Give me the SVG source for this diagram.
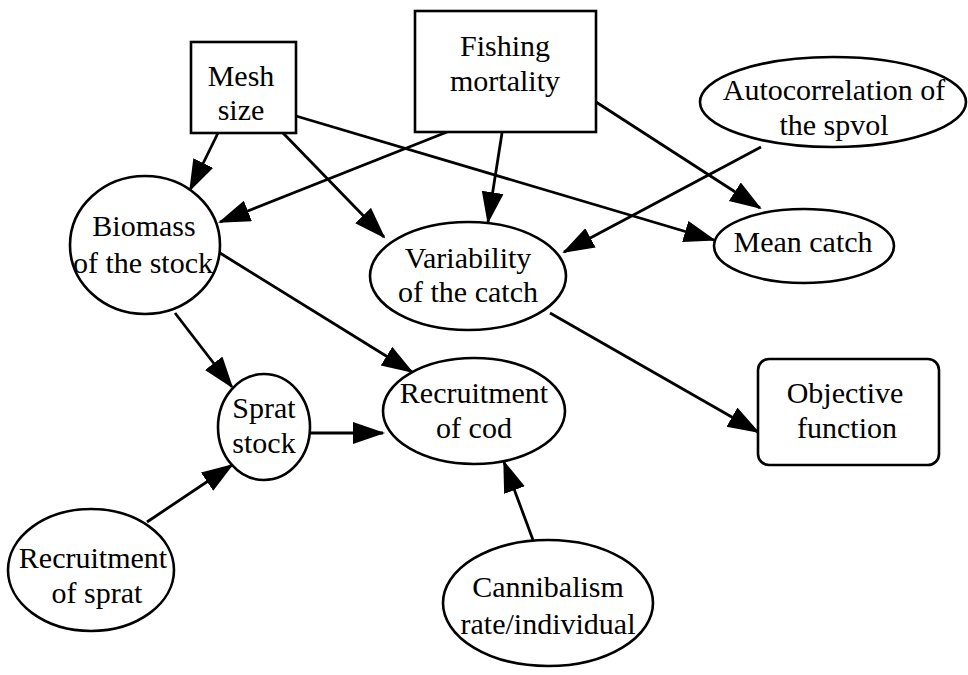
<svg xmlns="http://www.w3.org/2000/svg" width="968" height="675" viewBox="0 0 968 675">
<style>
.n{fill:#fff;stroke:#000;stroke-width:2.6}
.t{font-family:'Liberation Serif','DejaVu Serif',serif;font-size:30px;fill:#000;text-anchor:middle}
.e line{stroke:#000;stroke-width:2.8;marker-end:url(#a)}
</style>
<defs>
<marker id="a" markerUnits="userSpaceOnUse" markerWidth="34" markerHeight="24" refX="30" refY="11" orient="auto">
<path d="M0,0 L32,11 L0,22 z" fill="#000"/>
</marker>
</defs>
<rect width="968" height="675" fill="#fff"/>
<g id="connectors" class="e">
<line x1="218" y1="133" x2="190" y2="190"/>
<line x1="283" y1="133" x2="384" y2="237"/>
<line x1="296" y1="116" x2="714" y2="240"/>
<line x1="447" y1="132" x2="220" y2="222"/>
<line x1="502" y1="133" x2="488" y2="222"/>
<line x1="596" y1="102" x2="760" y2="208"/>
<line x1="761" y1="147" x2="564" y2="252"/>
<line x1="175" y1="313" x2="232" y2="387"/>
<line x1="220" y1="253" x2="412" y2="372"/>
<line x1="309" y1="433" x2="383" y2="433"/>
<line x1="147" y1="522" x2="232" y2="465"/>
<line x1="533" y1="540" x2="504" y2="462"/>
<line x1="550" y1="313" x2="758" y2="432"/>
</g>
<g id="mesh"><rect class="n" x="191" y="42" width="105" height="91"/><text class="t" x="241" y="86">Mesh</text><text class="t" x="241" y="120">size</text></g>
<g id="fishing"><rect class="n" x="415" y="11" width="181" height="121"/><text class="t" x="505" y="56">Fishing</text><text class="t" x="505" y="91">mortality</text></g>
<g id="autocorr"><ellipse class="n" cx="833" cy="102" rx="133" ry="45"/><text class="t" x="834" y="100">Autocorrelation of</text><text class="t" x="834" y="135">the spvol</text></g>
<g id="meancatch"><ellipse class="n" cx="804" cy="246" rx="90" ry="37"/><text class="t" x="803" y="252">Mean catch</text></g>
<g id="biomass"><ellipse class="n" cx="145" cy="245" rx="75" ry="69"/><text class="t" x="144" y="236">Biomass</text><text class="t" x="143" y="273">of the stock</text></g>
<g id="variability"><ellipse class="n" cx="468" cy="276" rx="98" ry="54"/><text class="t" x="468" y="268">Variability</text><text class="t" x="468" y="302">of the catch</text></g>
<g id="sprat"><ellipse class="n" cx="264" cy="427" rx="46" ry="53"/><text class="t" x="264" y="418">Sprat</text><text class="t" x="264" y="453">stock</text></g>
<g id="recruitcod"><ellipse class="n" cx="474" cy="411" rx="91" ry="53"/><text class="t" x="474" y="403">Recruitment</text><text class="t" x="474" y="438">of cod</text></g>
<g id="objective"><rect class="n" x="758" y="359" width="181" height="106" rx="11"/><text class="t" x="845" y="403">Objective</text><text class="t" x="847" y="438">function</text></g>
<g id="recruitsprat"><ellipse class="n" cx="91" cy="570" rx="83" ry="61"/><text class="t" x="93" y="568">Recruitment</text><text class="t" x="97" y="603">of sprat</text></g>
<g id="cannibalism"><ellipse class="n" cx="548" cy="603" rx="105" ry="63"/><text class="t" x="548" y="597">Cannibalism</text><text class="t" x="548" y="634">rate/individual</text></g>
</svg>
